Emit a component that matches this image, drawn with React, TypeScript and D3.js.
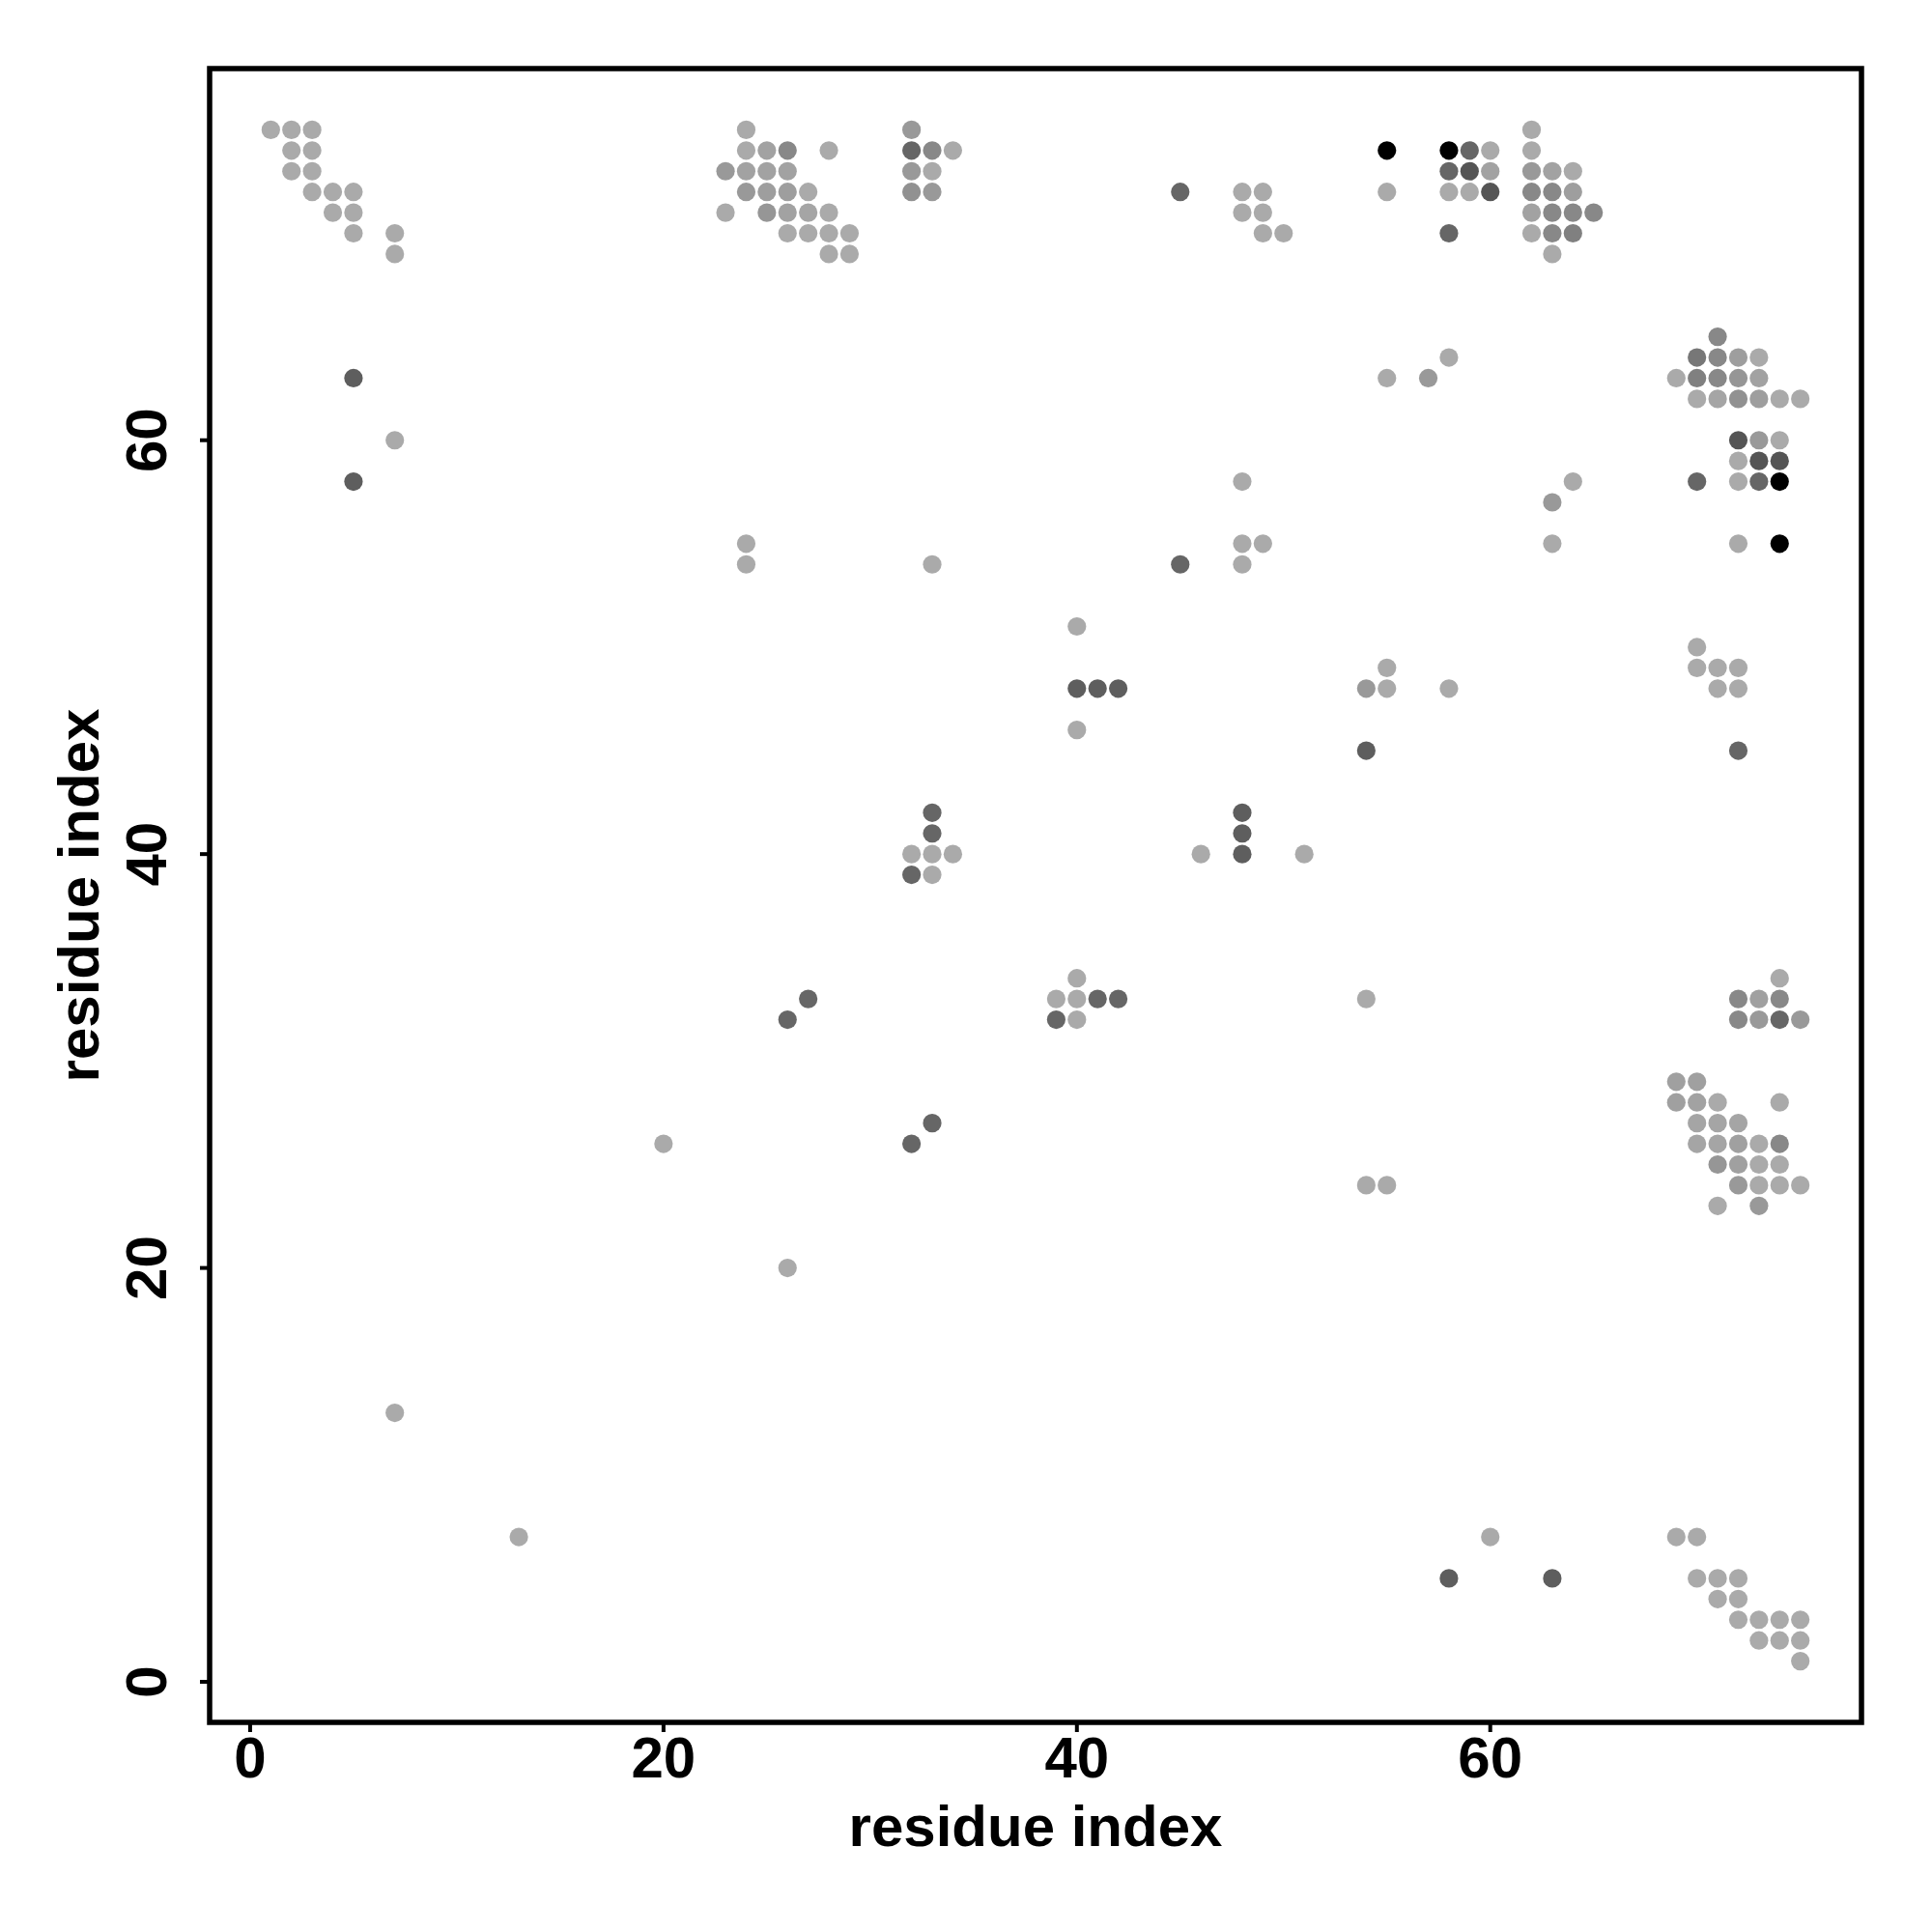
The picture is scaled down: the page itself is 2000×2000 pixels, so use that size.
import React from 'react';
import * as d3 from 'd3';

// each contact: [residue i, residue j, weight]  weight 0 = light grey ... 1 = black

// N-terminus <-> C-terminus (upper left / lower right)
const termUpper = [
  [1, 75, 0], [2, 75, 0], [3, 75, 0], [2, 74, 0], [3, 74, 0], [2, 73, 0], [3, 73, 0],
  [3, 72, 0], [4, 72, 0], [5, 72, 0], [4, 71, 0], [5, 71, 0], [5, 70, 0], [7, 70, 0], [7, 69, 0],
];
const termLower = [
  [69, 7, 0], [70, 7, 0], [70, 5, 0], [71, 5, 0], [72, 5, 0], [71, 4, 0], [72, 4, 0],
  [72, 3, 0], [73, 3, 0], [74, 3, 0], [75, 3, 0], [73, 2, 0], [74, 2, 0], [75, 2, 0], [75, 1, 0],
];

// strand 23-34 <-> 69-75
const midUpper = [
  [24, 75, 0], [24, 74, 0], [25, 74, 0.05], [26, 74, 0.2], [28, 74, 0],
  [23, 73, 0.1], [24, 73, 0.05], [25, 73, 0.05], [26, 73, 0.05],
  [24, 72, 0.1], [25, 72, 0.07], [26, 72, 0.07], [27, 72, 0],
  [23, 71, 0], [25, 71, 0.12], [26, 71, 0.05], [27, 71, 0.03], [28, 71, 0],
  [26, 70, 0], [27, 70, 0], [28, 70, 0], [29, 70, 0], [28, 69, 0], [29, 69, 0],
  [32, 75, 0.1], [32, 74, 0.4], [33, 74, 0.2], [34, 74, 0],
  [32, 73, 0.1], [33, 73, 0], [32, 72, 0.15], [33, 72, 0.1],
];
const midLower = [
  [74, 34, 0], [72, 33, 0.2], [73, 33, 0.06], [74, 33, 0.2],
  [72, 32, 0.2], [73, 32, 0.1], [74, 32, 0.4], [75, 32, 0.1],
  [69, 29, 0.06], [70, 29, 0.06], [69, 28, 0.06], [70, 28, 0.05], [71, 28, 0], [74, 28, 0],
  [70, 27, 0.03], [71, 27, 0.03], [72, 27, 0.03],
  [70, 26, 0.03], [71, 26, 0.03], [72, 26, 0.06], [73, 26, 0], [74, 26, 0.2],
  [71, 25, 0.12], [72, 25, 0.06], [73, 25, 0], [74, 25, 0],
  [72, 24, 0.1], [73, 24, 0], [74, 24, 0], [75, 24, 0], [71, 23, 0], [73, 23, 0.1],
];

// 45-65 <-> 69-75
const helixUpper = [
  [45, 72, 0.4], [48, 72, 0], [49, 72, 0], [48, 71, 0], [49, 71, 0], [49, 70, 0], [50, 70, 0],
  [55, 74, 1], [55, 72, 0],
  [58, 74, 1], [58, 73, 0.4], [58, 72, 0], [58, 70, 0.4],
  [59, 74, 0.4], [59, 73, 0.5], [59, 72, 0],
  [60, 74, 0], [60, 73, 0.05], [60, 72, 0.5],
  [62, 75, 0], [62, 74, 0], [62, 73, 0.1], [62, 72, 0.2], [62, 71, 0.05], [62, 70, 0],
  [63, 73, 0.05], [63, 72, 0.2], [63, 71, 0.2], [63, 70, 0.2], [63, 69, 0],
  [64, 73, 0], [64, 72, 0.07], [64, 71, 0.2], [64, 70, 0.25], [65, 71, 0.2],
];
const helixLower = [
  [71, 65, 0.2],
  [70, 64, 0.3], [71, 64, 0.2], [72, 64, 0.07], [73, 64, 0],
  [69, 63, 0], [70, 63, 0.25], [71, 63, 0.2], [72, 63, 0.12], [73, 63, 0.05],
  [70, 62, 0], [71, 62, 0.03], [72, 62, 0.15], [73, 62, 0.07], [74, 62, 0], [75, 62, 0],
  [72, 60, 0.5], [73, 60, 0.1], [74, 60, 0],
  [72, 59, 0], [73, 59, 0.5], [74, 59, 0.5],
  [70, 58, 0.4], [72, 58, 0], [73, 58, 0.4], [74, 58, 1],
  [72, 55, 0], [74, 55, 1],
  [70, 50, 0], [70, 49, 0], [71, 49, 0], [72, 49, 0], [71, 48, 0], [72, 48, 0], [72, 45, 0.4],
];

// scattered contacts
const otherContacts = [
  [5, 63, 0.45], [7, 60, 0], [5, 58, 0.45], [63, 5, 0.45], [60, 7, 0], [58, 5, 0.45],
  [13, 7, 0], [7, 13, 0], [20, 26, 0], [26, 20, 0],
  [24, 55, 0], [24, 54, 0], [33, 54, 0], [55, 24, 0], [54, 24, 0], [54, 33, 0],
  [45, 54, 0.4], [54, 45, 0.45],
  [48, 58, 0], [48, 55, 0], [49, 55, 0], [48, 54, 0],
  [58, 48, 0], [55, 48, 0], [55, 49, 0], [54, 48, 0.1],
  [58, 64, 0], [55, 63, 0], [57, 63, 0.1], [64, 58, 0], [63, 57, 0.1], [63, 55, 0],
  [33, 42, 0.4], [33, 41, 0.4], [32, 40, 0], [33, 40, 0], [34, 40, 0], [32, 39, 0.4], [33, 39, 0],
  [42, 33, 0.4], [41, 33, 0.4], [40, 32, 0], [40, 33, 0], [40, 34, 0], [39, 32, 0.4], [39, 33, 0],
  [27, 33, 0.4], [26, 32, 0.4], [33, 27, 0.4], [32, 26, 0.4],
  [40, 51, 0], [40, 48, 0.45], [41, 48, 0.45], [42, 48, 0.45], [40, 46, 0],
  [51, 40, 0], [48, 40, 0.45], [48, 41, 0.45], [48, 42, 0.45], [46, 40, 0],
];

const xTicks = [0, 20, 40, 60];
const yTicks = [0, 20, 40, 60];
const xTitle = "residue index";
const yTitle = "residue index";

const contacts = [
  ...termUpper, ...termLower, ...midUpper, ...midLower,
  ...helixUpper, ...helixLower, ...otherContacts,
];

const W = 2000;
const H = 2000;
const plot = { left: 217, right: 1927, top: 71, bottom: 1783 };
const font = "'Liberation Sans', Arial, Helvetica, sans-serif";
const fs = 60;

// R-style 4% axis expansion
const padded = (vals) => {
  const [lo, hi] = d3.extent(vals);
  const p = (hi - lo) * 0.04;
  return [lo - p, hi + p];
};

const App = () => {
  const x = d3.scaleLinear()
    .domain(padded(contacts.map(d => d[0])))
    .range([plot.left, plot.right]);
  const y = d3.scaleLinear()
    .domain(padded(contacts.map(d => d[1])))
    .range([plot.bottom, plot.top]);
  const shade = d3.scaleLinear<string>()
    .domain([0, 1])
    .range(["#aaaaaa", "#000000"])
    .interpolate(d3.interpolateRgb);

  return (
    <div style={{ position: "absolute", left: 0, top: 0 }}>
      <svg width={W} height={H} style={{ display: "block", background: "#fff" }}>
        <rect x={0} y={0} width={W} height={H} fill="#fff" />

        {contacts.map((d, i) => (
          <circle key={i} cx={x(d[0])} cy={y(d[1])} r={9.6} fill={shade(d[2])} />
        ))}

        <rect
          x={plot.left} y={plot.top}
          width={plot.right - plot.left} height={plot.bottom - plot.top}
          fill="none" stroke="#000" strokeWidth={5.5}
        />

        {/* x axis */}
        {xTicks.map(t => (
          <g key={"x" + t}>
            <line x1={x(t)} x2={x(t)} y1={plot.bottom} y2={plot.bottom + 10} stroke="#000" strokeWidth={4} />
            <text x={x(t)} y={1840} textAnchor="middle" fontFamily={font} fontWeight="bold" fontSize={fs}>{t}</text>
          </g>
        ))}
        <text x={(plot.left + plot.right) / 2} y={1911} textAnchor="middle"
          fontFamily={font} fontWeight="bold" fontSize={fs}>{xTitle}</text>

        {/* y axis */}
        {yTicks.map(t => (
          <g key={"y" + t}>
            <line x1={plot.left - 10} x2={plot.left} y1={y(t)} y2={y(t)} stroke="#000" strokeWidth={4} />
            <text transform={`translate(172,${y(t)}) rotate(-90)`} textAnchor="middle"
              fontFamily={font} fontWeight="bold" fontSize={fs}>{t}</text>
          </g>
        ))}
        <text transform={`translate(102,${(plot.top + plot.bottom) / 2}) rotate(-90)`} textAnchor="middle"
          fontFamily={font} fontWeight="bold" fontSize={fs}>{yTitle}</text>
      </svg>
    </div>
  );
};

export default App;
